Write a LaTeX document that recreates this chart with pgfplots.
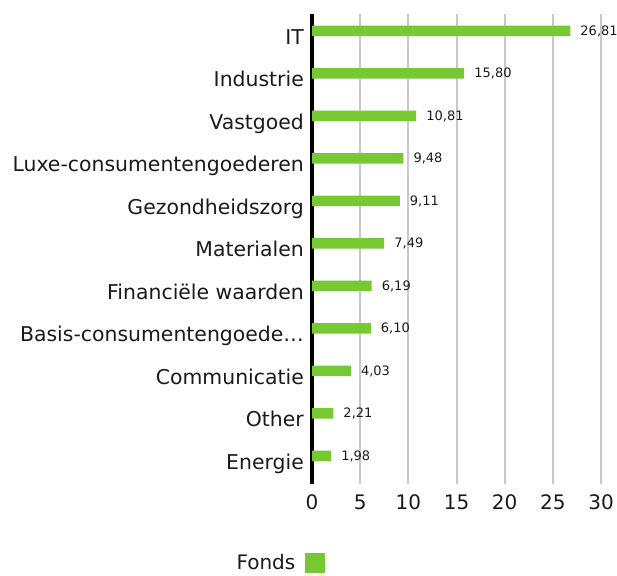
\documentclass[border=0pt]{standalone}
\usepackage{pgfplots}
\pgfplotsset{compat=1.18}
\usepackage{fontspec}
\setmainfont{DejaVu Sans}
\definecolor{barg}{RGB}{118,201,51}
\definecolor{gridg}{RGB}{200,200,200}
\definecolor{txt}{RGB}{26,26,26}
\begin{document}
\begin{tikzpicture}
\begin{axis}[
  at={(312pt,91pt)}, anchor=south west,
  scale only axis,
  width=289pt, height=470pt,
  xmin=0, xmax=30, ymin=-0.66, ymax=10.4,
  xbar, bar width=10.5pt,
  /pgf/number format/assume math mode=true,
  axis x line*=bottom, axis y line*=left,
  x axis line style={draw=none},
  y axis line style={black, line width=4pt, -},
  xtick={0,5,...,30},
  ytick={0,...,10},
  yticklabels={Energie,Other,Communicatie,Basis-consumentengoede…,Financiële waarden,Materialen,Gezondheidszorg,Luxe-consumentengoederen,Vastgoed,Industrie,IT},
  major tick length=0pt,
  xmajorgrids, major grid style={gridg, line width=2pt},
  ticklabel style={font=\fontsize{20}{24}\selectfont, text=txt},
  xticklabel style={anchor=base, inner sep=0pt, yshift=-25pt},
  yticklabel style={anchor=base east, inner sep=0pt, xshift=-8pt, yshift=-13.5pt, font=\fontsize{20.4}{24}\selectfont},
  nodes near coords,
  nodes near coords style={font=\fontsize{13}{15}\selectfont, text=txt, anchor=west, inner sep=0pt, xshift=10pt,
    /pgf/number format/.cd, fixed, fixed zerofill, precision=2, use comma, assume math mode=true},
  legend plot pos=right,
  legend style={at={(-0.111,-0.168)}, anchor=center, draw=none, fill=none,
    font=\fontsize{20}{24}\selectfont, text=txt, inner sep=0pt,
    /tikz/every even column/.append style={column sep=0pt}},
  legend image code/.code={\path (0pt,0pt); \fill[barg] (8pt,-10pt) rectangle (28pt,10pt);},
]
\addplot[fill=barg, draw=none] coordinates {
  (1.98,0) (2.21,1) (4.03,2) (6.10,3) (6.19,4) (7.49,5)
  (9.11,6) (9.48,7) (10.81,8) (15.80,9) (26.81,10)
};
\addlegendentry{Fonds}
\end{axis}
\pgfresetboundingbox
\path[use as bounding box] (0,0) rectangle (617pt,575pt);
\end{tikzpicture}
\end{document}
